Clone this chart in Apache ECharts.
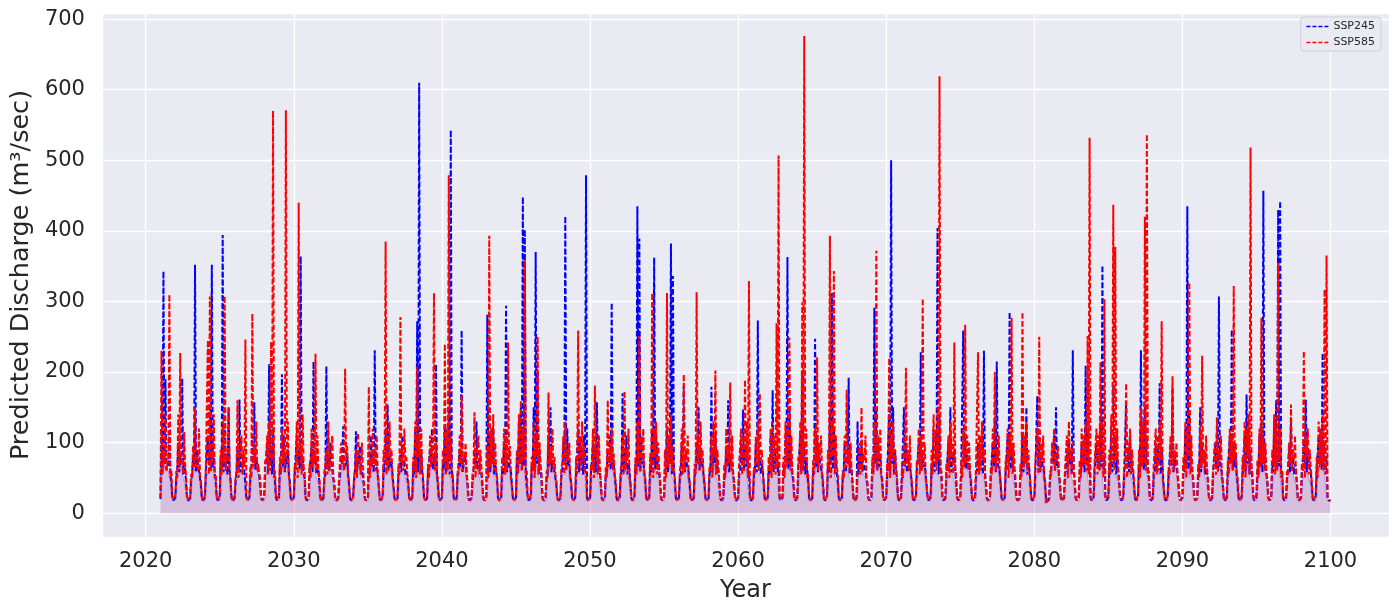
<!DOCTYPE html>
<html>
<head>
<meta charset="utf-8">
<script src="https://cdn.jsdelivr.net/npm/echarts@6/dist/echarts.min.js"></script>
<style>
  html, body { margin: 0; padding: 0; background: #fff; }
  #chart { width: 1400px; height: 616px; }
</style>
</head>
<body>
<div id="chart"></div>
<script>
// 15 samples per year: wet season (first 12) then dry-season base flow
var firstYear = 2021;
var samplesPerYear = 15;
var endValue = 18; // last value at 2100

// SSP585 discharge, one row per year 2021..2099
var ssp585 = [
  [22,230,55,90,70,140,60,70,75,310,50,60,24,19,18],
  [25,60,50,140,65,227,70,75,55,115,65,50,23,18,18],
  [24,55,50,95,65,150,70,70,60,120,55,45,22,18,18],
  [26,70,70,245,55,307,60,90,75,140,50,55,24,19,18],
  [25,90,55,130,70,308,60,85,75,150,55,50,23,18,18],
  [24,50,60,160,50,75,80,110,55,90,65,246,25,19,18],
  [25,65,50,283,65,95,70,130,60,70,55,50,23,18,18],
  [26,75,70,110,55,130,60,243,75,570,50,60,24,19,18],
  [25,80,55,120,70,95,60,571,75,130,55,55,23,18,18],
  [26,70,60,130,50,440,80,100,55,140,65,60,24,19,18],
  [24,70,50,120,65,90,70,226,60,110,55,50,23,18,18],
  [24,60,70,90,55,130,60,75,75,110,50,45,22,18,18],
  [23,55,55,100,70,80,60,205,75,95,55,45,22,18,18],
  [23,50,60,90,50,114,80,70,55,100,65,45,22,18,18],
  [24,179,50,80,65,120,70,90,60,110,55,45,22,18,18],
  [25,90,70,385,55,110,60,130,75,90,50,50,23,18,18],
  [24,70,55,278,70,95,60,120,75,80,55,45,22,18,18],
  [25,80,60,130,50,208,80,110,55,120,65,50,23,18,18],
  [24,70,50,110,65,95,70,312,60,100,55,50,23,18,18],
  [26,90,70,240,55,120,60,479,75,110,50,55,24,19,18],
  [24,60,55,110,70,168,60,80,75,100,55,45,22,18,18],
  [23,55,60,143,50,80,80,110,55,90,65,45,22,18,18],
  [25,95,50,393,65,120,70,140,60,100,55,50,23,18,18],
  [24,80,70,120,55,110,60,242,75,95,50,50,23,18,18],
  [26,90,55,140,70,160,60,120,75,359,55,60,24,19,18],
  [25,80,60,130,50,110,80,250,55,100,65,55,23,18,18],
  [24,60,50,171,65,95,70,120,60,80,55,45,22,18,18],
  [24,65,70,110,55,130,60,90,75,100,50,45,22,18,18],
  [25,80,55,259,70,110,60,130,75,95,55,60,23,18,18],
  [24,70,60,120,50,181,80,90,55,110,65,45,22,18,18],
  [24,65,50,160,65,100,70,120,60,85,55,45,22,18,18],
  [24,60,70,110,55,173,60,90,75,120,50,45,22,18,18],
  [25,80,55,130,70,251,60,110,75,120,55,50,23,18,18],
  [25,85,60,312,50,120,80,130,55,100,65,50,23,18,18],
  [25,90,50,312,65,110,70,140,60,95,55,50,23,18,18],
  [24,60,70,120,55,197,60,90,75,110,50,45,22,18,18],
  [24,70,55,313,70,110,60,130,75,90,55,45,22,18,18],
  [24,65,60,110,50,130,80,202,55,90,65,45,22,18,18],
  [24,70,50,120,65,95,70,185,60,110,55,45,22,18,18],
  [24,70,70,120,55,110,60,189,75,130,50,329,24,18,18],
  [24,65,55,110,70,130,60,170,75,90,55,45,22,18,18],
  [25,80,60,120,50,130,80,110,55,269,65,507,24,19,18],
  [25,80,50,130,65,120,70,249,60,110,55,50,23,18,18],
  [25,80,70,130,55,299,60,676,75,120,50,55,23,18,18],
  [24,75,55,120,70,221,60,100,75,110,55,50,22,18,18],
  [25,90,60,393,50,130,80,343,55,110,65,55,23,18,18],
  [24,60,50,110,65,175,70,90,60,100,55,45,22,18,18],
  [24,60,70,100,55,150,60,85,75,110,50,45,22,18,18],
  [25,80,55,130,70,372,60,110,75,120,55,50,23,18,18],
  [24,70,60,220,50,110,80,130,55,90,65,50,22,18,18],
  [24,65,50,110,65,206,70,90,60,110,55,45,22,18,18],
  [25,75,70,120,55,110,60,304,75,100,50,50,23,18,18],
  [26,90,55,140,70,120,60,150,75,619,55,60,24,19,18],
  [24,70,60,110,50,130,80,100,55,242,65,50,23,18,18],
  [25,75,50,120,65,267,70,110,60,100,55,50,23,18,18],
  [24,70,70,228,55,110,60,130,75,90,50,45,22,18,18],
  [24,65,55,120,70,200,60,90,75,110,55,45,22,18,18],
  [25,75,60,120,50,110,80,277,55,100,65,50,23,18,18],
  [24,70,50,285,65,110,70,130,60,90,55,45,22,18,18],
  [24,70,70,120,55,250,60,100,75,110,50,45,13,18,18],
  [24,60,55,100,70,120,60,85,75,95,55,45,22,18,18],
  [24,60,60,110,50,130,80,90,55,100,65,45,22,18,18],
  [25,75,50,120,65,110,70,130,60,251,55,532,24,19,18],
  [25,70,70,120,55,110,60,214,75,130,50,303,24,19,18],
  [26,90,55,140,70,437,60,377,75,120,55,55,24,19,18],
  [24,65,60,184,50,100,80,120,55,90,65,45,22,18,18],
  [26,90,50,150,65,130,70,420,60,537,55,60,24,19,18],
  [24,70,70,120,55,110,60,130,75,272,50,50,23,18,18],
  [24,65,55,110,70,194,60,90,75,100,55,45,22,18,18],
  [25,80,60,130,50,120,80,327,55,110,65,50,23,18,18],
  [24,70,50,120,65,223,70,90,60,110,55,45,22,18,18],
  [24,60,70,100,55,136,60,90,75,110,50,45,22,18,18],
  [25,75,55,120,70,110,60,322,75,100,55,50,23,18,18],
  [25,80,60,130,50,120,80,140,55,518,65,55,24,19,18],
  [25,75,50,120,65,277,70,110,60,100,55,50,23,18,18],
  [26,90,70,140,55,130,60,355,75,120,50,60,24,19,18],
  [24,60,55,100,70,154,60,90,75,110,55,45,22,18,18],
  [24,70,60,230,50,110,80,120,55,90,65,45,22,18,18],
  [25,80,50,130,65,120,70,140,60,317,55,365,24,19,18]
];

// SSP245 discharge, one row per year 2021..2099
var ssp245 = [
  [20,120,58,343,70,190,62,60,66,110,55,45,22,18,18],
  [22,50,62,100,58,80,70,191,55,70,62,40,21,18,17],
  [21,45,55,80,66,352,58,90,70,60,58,40,21,18,17],
  [22,60,58,110,70,150,62,352,66,80,55,45,22,18,18],
  [22,80,62,394,58,120,70,70,55,150,62,45,21,18,17],
  [21,45,55,90,66,161,58,70,70,80,58,60,22,18,18],
  [22,50,58,110,70,157,62,80,66,60,55,40,21,18,17],
  [22,60,62,100,58,211,70,90,55,120,62,45,22,18,18],
  [22,70,55,197,66,110,58,80,70,90,58,45,21,18,17],
  [22,60,58,110,70,90,62,364,66,80,55,50,22,18,18],
  [21,60,62,95,58,215,70,80,55,70,62,40,21,18,17],
  [21,50,55,208,66,80,58,100,70,60,58,40,21,18,17],
  [21,45,58,80,70,123,62,70,66,85,55,40,21,18,17],
  [21,45,62,116,58,80,70,95,55,60,62,40,21,18,17],
  [21,60,55,110,66,90,58,231,70,70,58,40,21,18,17],
  [22,70,58,120,70,154,62,80,66,70,55,40,21,18,17],
  [21,55,62,90,58,110,70,75,55,60,62,40,21,18,17],
  [22,70,55,120,66,272,58,610,70,90,58,45,22,18,18],
  [21,60,58,90,70,120,62,80,66,211,55,40,21,18,17],
  [22,70,62,120,58,100,70,150,55,543,62,50,22,18,18],
  [21,55,55,90,66,259,58,70,70,80,58,40,21,18,17],
  [21,45,58,90,70,130,62,70,66,60,55,40,21,18,17],
  [22,281,62,110,58,90,70,120,55,70,62,45,21,18,17],
  [21,60,55,100,66,294,58,85,70,70,58,40,21,18,17],
  [22,80,58,130,70,150,62,448,66,402,55,55,22,18,18],
  [22,70,62,150,58,370,70,200,55,90,62,45,21,18,17],
  [21,50,55,110,66,150,58,75,70,60,58,40,21,18,17],
  [21,55,58,100,70,421,62,120,66,70,55,40,21,18,17],
  [22,60,62,120,58,100,70,90,55,110,62,479,22,18,18],
  [21,55,55,100,66,90,58,157,70,70,58,40,21,18,17],
  [21,55,58,90,70,110,62,298,66,70,55,40,21,18,17],
  [21,50,62,170,58,90,70,110,55,70,62,40,21,18,17],
  [22,70,55,435,66,389,58,100,70,80,58,45,22,18,18],
  [22,70,58,120,70,362,62,110,66,80,55,45,21,18,17],
  [22,70,62,120,58,100,70,382,55,336,62,45,22,18,18],
  [21,50,55,100,66,180,58,80,70,70,58,40,21,18,17],
  [21,55,58,100,70,150,62,90,66,70,55,40,21,18,17],
  [21,55,62,179,58,90,70,110,55,70,62,40,21,18,17],
  [21,50,55,90,66,160,58,80,70,70,58,40,21,18,17],
  [21,55,58,100,70,147,62,90,66,80,55,60,21,18,17],
  [21,55,62,100,58,273,70,80,55,70,62,40,21,18,17],
  [22,60,55,110,66,174,58,90,70,100,58,70,22,18,18],
  [22,70,58,110,70,363,62,150,66,80,55,45,21,18,17],
  [22,60,62,110,58,200,70,100,55,80,62,45,21,18,17],
  [21,60,55,247,66,110,58,90,70,70,58,40,21,18,17],
  [22,70,58,140,70,312,62,120,66,80,55,45,22,18,18],
  [21,50,62,100,58,80,70,192,55,70,62,40,21,18,17],
  [21,130,55,90,66,100,58,70,70,60,58,40,21,18,17],
  [22,70,58,291,70,150,62,100,66,80,55,45,22,18,18],
  [22,60,62,140,58,500,70,150,55,90,62,45,22,18,18],
  [21,55,55,150,66,100,58,80,70,70,58,40,21,18,17],
  [22,60,58,100,70,228,62,90,66,70,55,40,21,18,17],
  [22,70,62,120,58,110,70,404,55,140,62,50,22,18,18],
  [21,55,55,100,66,150,58,80,70,90,58,40,21,18,17],
  [22,60,58,259,70,110,62,90,66,70,55,40,21,18,17],
  [21,55,62,100,58,90,70,110,55,230,62,40,21,18,17],
  [21,55,55,100,66,130,58,215,70,70,58,40,21,18,17],
  [22,60,58,110,70,285,62,100,66,70,55,40,21,18,17],
  [21,55,62,110,58,100,70,150,55,70,62,40,21,18,17],
  [21,55,55,166,66,100,58,80,70,70,58,40,20,18,17],
  [21,50,58,90,70,110,62,150,66,70,55,40,21,18,17],
  [21,50,62,90,58,100,70,80,55,231,62,40,21,18,17],
  [22,60,55,100,66,90,58,209,70,120,58,70,22,18,18],
  [22,60,58,100,70,110,62,130,66,351,55,80,22,18,18],
  [22,70,62,120,58,180,70,110,55,80,62,45,22,18,18],
  [21,55,55,154,66,90,58,110,70,70,58,40,21,18,17],
  [22,70,58,231,70,120,62,150,66,110,55,50,22,18,18],
  [21,55,62,100,58,90,70,184,55,90,62,40,21,18,17],
  [21,55,55,100,66,178,58,80,70,70,58,40,21,18,17],
  [22,70,58,120,70,435,62,140,66,80,55,45,22,18,18],
  [21,55,62,150,58,100,70,80,55,70,62,40,21,18,17],
  [21,55,55,100,66,120,58,307,70,70,58,40,21,18,17],
  [22,60,58,110,70,260,62,100,66,80,55,40,21,18,17],
  [22,60,62,110,58,168,70,100,55,90,62,45,21,18,17],
  [22,60,55,110,66,130,58,457,70,90,58,45,22,18,18],
  [22,70,58,130,70,160,62,430,66,442,55,60,22,18,18],
  [21,50,62,90,58,130,70,80,55,70,62,40,21,18,17],
  [21,55,55,100,66,161,58,90,70,70,58,40,21,18,17],
  [22,60,58,110,70,120,62,227,66,100,55,80,22,18,18]
];

var xTickLabels = [2020, 2030, 2040, 2050, 2060, 2070, 2080, 2090, 2100];
var yTickLabels = [0, 100, 200, 300, 400, 500, 600, 700];

// turn the yearly rows into [decimal year, value] points
function toPoints(rows) {
  var pts = [];
  for (var i = 0; i < rows.length; i++) {
    for (var s = 0; s < samplesPerYear; s++) {
      pts.push([firstYear + i + s / samplesPerYear, rows[i][s]]);
    }
  }
  pts.push([firstYear + rows.length, endValue]);
  return pts;
}

var pts585 = toPoints(ssp585);
var pts245 = toPoints(ssp245);

// shaded low-flow band: local minimum of both scenarios
var bandPts = [];
for (var i = 0; i < pts585.length; i++) {
  var lo = Infinity;
  for (var j = Math.max(0, i - 1); j <= Math.min(pts585.length - 1, i + 1); j++) {
    lo = Math.min(lo, pts585[j][1], pts245[j][1]);
  }
  bandPts.push([pts585[i][0], lo]);
}

var textColor = '#262626';
var font = 'DejaVu Sans';

var option = {
  animation: false,
  backgroundColor: '#ffffff',
  grid: {
    left: 100, right: 11, top: 13, bottom: 79,
    show: true, backgroundColor: '#eaeaf2', borderWidth: 0
  },
  legend: {
    orient: 'vertical',
    right: 19, top: 17,
    itemWidth: 22, itemHeight: 10, itemGap: 5,
    padding: [4, 6, 3, 5],
    backgroundColor: '#eaeaf2',
    borderColor: '#cfcfd6', borderWidth: 1, borderRadius: 3,
    textStyle: { fontFamily: font, fontSize: 11, color: textColor },
    itemStyle: { opacity: 0 },
    lineStyle: { width: 1.5, type: [4, 2] },
    data: ['SSP245', 'SSP585']
  },
  xAxis: {
    type: 'value',
    min: 2017.05, max: 2103.95,
    minInterval: 10, maxInterval: 10,
    name: 'Year', nameLocation: 'middle', nameGap: 42,
    nameTextStyle: { fontFamily: font, fontSize: 24, color: textColor },
    axisLine: { show: false }, axisTick: { show: false },
    axisLabel: {
      fontFamily: font, fontSize: 21, color: textColor, margin: 14,
      showMinLabel: false, showMaxLabel: false,
      formatter: function (v) { return xTickLabels.indexOf(v) >= 0 ? String(v) : ''; }
    },
    splitLine: { show: true, lineStyle: { color: '#ffffff', width: 1.3 } }
  },
  yAxis: {
    type: 'value',
    min: -33.75, max: 708.75,
    minInterval: 100, maxInterval: 100,
    name: 'Predicted Discharge (m³/sec)', nameLocation: 'middle', nameGap: 64,
    nameTextStyle: { fontFamily: font, fontSize: 25.5, color: textColor },
    axisLine: { show: false }, axisTick: { show: false },
    axisLabel: {
      fontFamily: font, fontSize: 21, color: textColor, margin: 17,
      showMinLabel: false, showMaxLabel: false,
      formatter: function (v) { return yTickLabels.indexOf(v) >= 0 ? String(v) : ''; }
    },
    splitLine: { show: true, lineStyle: { color: '#ffffff', width: 1.3 } }
  },
  series: [
    {
      name: 'band', type: 'line', data: bandPts,
      symbol: 'none', silent: true, z: 1,
      lineStyle: { color: 'rgba(128,0,128,0.3)', width: 1 },
      areaStyle: { color: 'rgba(128,0,128,0.27)', origin: 0 }
    },
    {
      name: 'SSP245', type: 'line', data: pts245,
      symbol: 'none', z: 2,
      lineStyle: { color: '#0000ff', width: 2, type: [5.5, 2.4] },
      itemStyle: { color: '#0000ff' }
    },
    {
      name: 'SSP585', type: 'line', data: pts585,
      symbol: 'none', z: 3,
      lineStyle: { color: '#ff0000', width: 2, type: [5.5, 2.4] },
      itemStyle: { color: '#ff0000' }
    }
  ]
};

var chart = echarts.init(document.getElementById('chart'), null, { renderer: 'canvas' });
chart.setOption(option);
</script>
</body>
</html>
